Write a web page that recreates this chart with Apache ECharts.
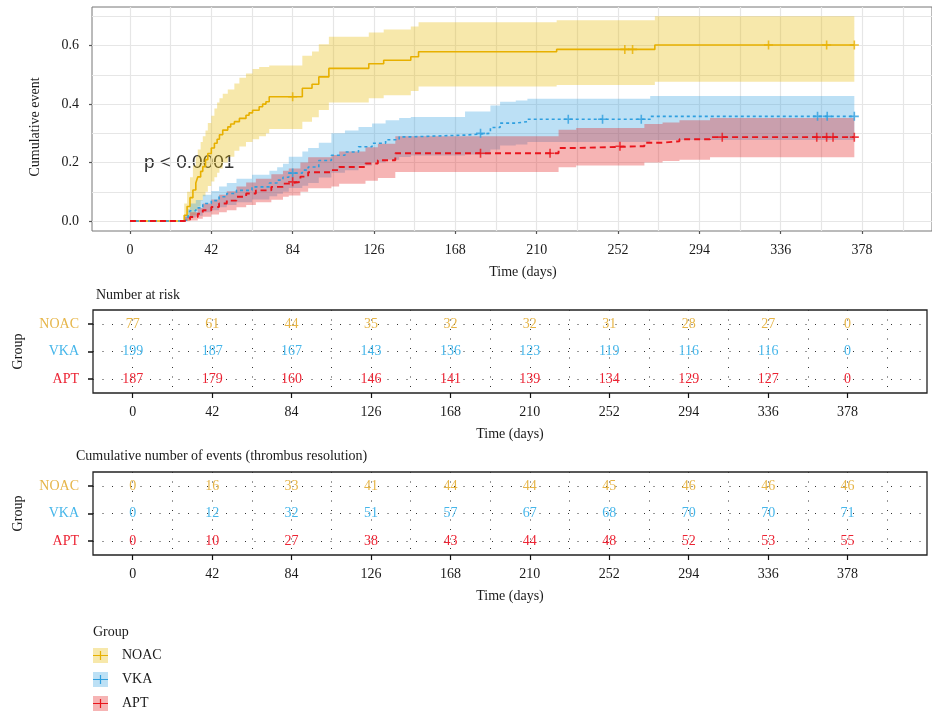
<!DOCTYPE html>
<html>
<head>
<meta charset="utf-8">
<script src="https://cdn.jsdelivr.net/npm/echarts@6/dist/echarts.min.js"></script>
<style>
  html, body { margin: 0; padding: 0; background: #fff; }
  #chart { width: 932px; height: 714px; }
</style>
</head>
<body>
<div id="chart"></div>
<script>
// ---- data ----
const groups = ['NOAC', 'VKA', 'APT'];

// cumulative event, step curves [time, value]
const noacSteps = [[0,0],[28,0.02],[29.5,0.05],[31,0.08],[32.5,0.106],[34,0.13],[35,0.151],[36.5,0.17],[37.6,0.186],[39,0.21],[40.2,0.231],[42,0.25],[43.6,0.266],[45,0.28],[46.2,0.295],[47.9,0.311],[50.5,0.322],[52,0.332],[53.9,0.34],[56.5,0.351],[59.9,0.362],[61.5,0.37],[63.3,0.379],[66.7,0.391],[68.5,0.4],[70.2,0.408],[71.9,0.425],[89,0.454],[94,0.468],[97.5,0.493],[102.7,0.522],[123.3,0.538],[131,0.55],[145,0.562],[149,0.579],[220.3,0.587],[271,0.602],[374,0.602]];
const vkaSteps = [[0,0],[28,0.005],[30,0.02],[31,0.035],[34,0.045],[37.6,0.06],[42,0.07],[46,0.083],[50,0.094],[55,0.105],[63,0.117],[72,0.13],[76,0.14],[79,0.15],[82,0.164],[89,0.174],[92,0.185],[97.5,0.207],[104,0.225],[111,0.236],[118,0.254],[125,0.266],[132,0.278],[139,0.288],[145,0.294],[173,0.3],[186.1,0.32],[191.1,0.335],[199.2,0.34],[205.2,0.348],[268.6,0.358],[374,0.358]];
const aptSteps = [[0,0],[28,0.005],[31,0.014],[35,0.025],[37.6,0.037],[42,0.048],[46,0.06],[50,0.07],[55,0.083],[60,0.094],[65,0.105],[73,0.117],[79,0.128],[82,0.134],[88,0.152],[92,0.167],[104,0.174],[108,0.185],[121.6,0.197],[128,0.208],[137,0.232],[221.3,0.25],[230.4,0.256],[265.6,0.268],[275,0.273],[283.7,0.28],[299.5,0.287],[374,0.287]];

// confidence bands [time, lower, upper]
const noacBand = [[28,0,0.06],[29.5,0,0.1],[31,0.01,0.15],[32.5,0.02,0.19],[34,0.035,0.22],[35,0.05,0.245],[36.5,0.07,0.27],[37.6,0.085,0.29],[39,0.1,0.31],[40.2,0.12,0.335],[42,0.135,0.36],[43.6,0.15,0.385],[45,0.165,0.405],[46.2,0.18,0.42],[47.9,0.2,0.435],[50.5,0.22,0.45],[53.9,0.24,0.47],[56.5,0.255,0.49],[59.9,0.27,0.505],[63.3,0.28,0.52],[66.7,0.29,0.527],[70.2,0.3,0.527],[71.9,0.315,0.532],[89,0.34,0.565],[94,0.355,0.58],[97.5,0.38,0.605],[102.7,0.405,0.63],[123.3,0.42,0.645],[131,0.43,0.655],[145,0.445,0.665],[149,0.46,0.68],[220.3,0.465,0.687],[271,0.476,0.7],[374,0.476,0.7]];
const vkaBand = [[28,0,0.02],[30,0.005,0.04],[31,0.012,0.06],[34,0.018,0.072],[37.6,0.03,0.09],[42,0.037,0.103],[46,0.047,0.118],[50,0.055,0.13],[55,0.064,0.145],[63,0.074,0.158],[72,0.085,0.172],[76,0.093,0.184],[79,0.1,0.196],[82,0.113,0.22],[89,0.121,0.238],[92,0.13,0.25],[97.5,0.149,0.268],[104,0.165,0.3],[111,0.174,0.31],[118,0.19,0.322],[125,0.2,0.334],[132,0.21,0.345],[139,0.219,0.352],[145,0.224,0.356],[173,0.228,0.375],[186.1,0.245,0.395],[191.1,0.258,0.408],[199.2,0.262,0.412],[205.2,0.27,0.418],[268.6,0.277,0.428],[374,0.277,0.428]];
const aptBand = [[28,0,0.015],[31,0.002,0.03],[35,0.008,0.045],[37.6,0.015,0.06],[42,0.022,0.074],[46,0.03,0.09],[50,0.037,0.102],[55,0.047,0.118],[60,0.055,0.132],[65,0.064,0.145],[73,0.073,0.16],[79,0.083,0.172],[82,0.087,0.18],[88,0.1,0.2],[92,0.112,0.218],[104,0.118,0.226],[108,0.128,0.238],[121.6,0.138,0.252],[128,0.147,0.264],[137,0.168,0.29],[221.3,0.184,0.312],[230.4,0.19,0.318],[265.6,0.2,0.332],[275,0.205,0.337],[283.7,0.21,0.345],[299.5,0.218,0.352],[374,0.218,0.352]];

// censoring times
const noacCensor = [84, 255.5, 259.5, 329.7, 359.7, 374];
const vkaCensor = [84, 181, 226.3, 244, 264, 355, 360, 374];
const aptCensor = [84, 181, 216.9, 253, 305.8, 354.6, 359.7, 363, 374];

// tables
const tableTimes = [0, 42, 84, 126, 168, 210, 252, 294, 336, 378];
const riskNoac = [77, 61, 44, 35, 32, 32, 31, 28, 27, 0];
const riskVka = [199, 187, 167, 143, 136, 123, 119, 116, 116, 0];
const riskApt = [187, 179, 160, 146, 141, 139, 134, 129, 127, 0];
const eventsNoac = [0, 16, 33, 41, 44, 44, 45, 46, 46, 46];
const eventsVka = [0, 12, 32, 51, 57, 67, 68, 70, 70, 71];
const eventsApt = [0, 10, 27, 38, 43, 44, 48, 52, 53, 55];

// axes ticks
const xTicks = [0, 42, 84, 126, 168, 210, 252, 294, 336, 378];
const xGridLines = [0, 21, 42, 63, 84, 105, 126, 147, 168, 189, 210, 231, 252, 273, 294, 315, 336, 357, 378, 399];
const yTicks = [0, 0.2, 0.4, 0.6];
const yGridLines = [0, 0.1, 0.2, 0.3, 0.4, 0.5, 0.6, 0.7];
const rowNames = ['APT', 'VKA', 'NOAC'];   // bottom to top
const rowValues = [0, 1, 2];

// ---- styling ----
const serif = '"Liberation Serif", "DejaVu Serif", serif';
const lineColor = { NOAC: '#E7B000', VKA: '#2E9FDF', APT: '#E8141C' };
const bandColor = { NOAC: 'rgba(231,184,0,0.33)', VKA: 'rgba(46,159,223,0.32)', APT: 'rgba(228,26,28,0.33)' };
const textColor = { NOAC: '#E6B548', VKA: '#46B6EA', APT: '#EC2434' };

const chart = echarts.init(document.getElementById('chart'));

function stepValue(steps, t) {
  let v = 0;
  steps.forEach(([st, sv]) => { if (st <= t) v = sv; });
  return v;
}

function bandSeries(name, band) {
  return {
    name, type: 'custom', xAxisIndex: 0, yAxisIndex: 0, z: 1, silent: true,
    itemStyle: { color: bandColor[name] },
    encode: { x: 0, y: [1, 2] },
    data: band,
    renderItem(params, api) {
      if (params.dataIndex !== 0) return null;
      const top = [], bottom = [];
      band.forEach((row, i) => {
        const tNext = i < band.length - 1 ? band[i + 1][0] : row[0];
        top.push(api.coord([row[0], row[2]]), api.coord([tNext, row[2]]));
        bottom.push(api.coord([row[0], row[1]]), api.coord([tNext, row[1]]));
      });
      return {
        type: 'polygon',
        shape: { points: top.concat(bottom.reverse()) },
        style: { fill: bandColor[name] }
      };
    }
  };
}

function curveSeries(name, steps, type, width) {
  return {
    name, type: 'line', step: 'end', xAxisIndex: 0, yAxisIndex: 0, z: 3,
    data: steps, showSymbol: false, symbol: 'none', silent: true,
    lineStyle: { color: lineColor[name], width, type },
    itemStyle: { color: lineColor[name] }
  };
}

function censorSeries(name, steps, times) {
  return {
    name, type: 'scatter', xAxisIndex: 0, yAxisIndex: 0, z: 4, silent: true,
    data: times.map(t => [t, stepValue(steps, t)]),
    symbol: 'path://M5,0L5,10M0,5L10,5', symbolSize: 9,
    itemStyle: { color: 'none', borderColor: lineColor[name], borderWidth: 1.6 }
  };
}

function tableSeries(axisIdx, name, row, values) {
  return {
    type: 'custom', xAxisIndex: axisIdx, yAxisIndex: axisIdx, z: 3, silent: true,
    data: tableTimes.map((t, i) => [t, row, values[i]]),
    renderItem(params, api) {
      const p = api.coord([api.value(0), api.value(1)]);
      return {
        type: 'text', x: p[0], y: p[1],
        style: {
          text: String(api.value(2)), fill: textColor[name],
          font: '14px ' + serif, align: 'center', verticalAlign: 'middle'
        }
      };
    }
  };
}

// axis pairs: one axis only draws the grid lines, the other ticks + labels
function gridXAxis(gridIndex, min, max, lineStyle) {
  return {
    type: 'value', gridIndex, min, max, position: 'bottom',
    axisLine: { show: false, onZero: false },
    axisTick: { show: false, customValues: xGridLines },
    axisLabel: { show: false },
    splitLine: { show: true, lineStyle }
  };
}
function labelXAxis(gridIndex, min, max, tickColor, tickLen, namePad) {
  return {
    type: 'value', gridIndex, min, max, position: 'bottom',
    axisLine: { show: false, onZero: false },
    axisTick: { customValues: xTicks, length: tickLen, lineStyle: { color: tickColor, width: 1.2 } },
    axisLabel: { customValues: xTicks, margin: 12, fontFamily: serif, fontSize: 14, color: '#1a1a1a' },
    splitLine: { show: false },
    name: 'Time (days)', nameLocation: 'middle', nameGap: 34,
    nameTextStyle: { fontFamily: serif, fontSize: 14, color: '#1a1a1a', padding: namePad }
  };
}

const rich = {};
rowNames.forEach(n => { rich[n] = { fontFamily: serif, fontSize: 14, color: textColor[n] }; });

function tableYAxes(gridIndex) {
  return [
    {
      type: 'value', gridIndex, min: -0.5, max: 2.5, splitNumber: 3, position: 'left',
      axisLine: { show: false, onZero: false },
      axisTick: { show: false, customValues: rowValues },
      axisLabel: { show: false },
      splitLine: { show: true, lineStyle: { color: '#333', width: 1, type: [1, 8.5] } }
    },
    {
      type: 'value', gridIndex, min: -0.5, max: 2.5, position: 'left',
      axisLine: { show: false, onZero: false },
      axisTick: { customValues: rowValues, length: 5, lineStyle: { color: '#111', width: 1.5 } },
      axisLabel: {
        customValues: rowValues, margin: 14,
        formatter: v => '{' + rowNames[v] + '|' + rowNames[v] + '}', rich
      },
      splitLine: { show: false },
      name: 'Group', nameLocation: 'middle', nameGap: 68, nameRotate: 90,
      nameTextStyle: { fontFamily: serif, fontSize: 14, color: '#1a1a1a' }
    }
  ];
}

const dotted = { color: '#333', width: 1, type: [1, 8.5] };
const titleStyle = { fontFamily: serif, fontSize: 14, fontWeight: 'normal', color: '#1a1a1a', lineHeight: 16 };
const mainXMin = -19.6;
const mainXMax = 414.1;
// legend key overlay: a line with a "+" on top of the band swatch
const keyIcon = 'path://M0,0M15,15M0,6.9L15,6.9L15,8.1L0,8.1ZM6.9,3L8.1,3L8.1,12L6.9,12Z';

const legendBase = {
  orient: 'vertical', left: 93, top: 648, padding: 0, itemWidth: 15, itemHeight: 15, itemGap: 9,
  selectedMode: false
};

const option = {
  animation: false,
  backgroundColor: '#fff',
  title: [
    { text: 'Number at risk', left: 96, top: 287, padding: 0, textStyle: titleStyle },
    { text: 'Cumulative number of events (thrombus resolution)', left: 76, top: 448, padding: 0, textStyle: titleStyle },
    { text: 'Group', left: 93, top: 624, padding: 0, textStyle: titleStyle }
  ],
  legend: [
    Object.assign({}, legendBase, {
      icon: 'rect', data: groups,
      textStyle: { fontFamily: serif, fontSize: 14, lineHeight: 15, color: '#1a1a1a', padding: [0, 0, 0, 9] }
    }),
    Object.assign({}, legendBase, {
      data: groups.map(n => ({ name: n, icon: keyIcon, itemStyle: { color: lineColor[n] } })),
      textStyle: { fontFamily: serif, fontSize: 14, lineHeight: 15, color: 'rgba(0,0,0,0)', padding: [0, 0, 0, 9] }
    })
  ],
  graphic: [
    { type: 'text', left: 144, top: 153, style: { text: 'p < 0.0001', font: '19px "Liberation Sans", Arial, sans-serif', fill: '#333' } }
  ],
  grid: [
    { left: 92, top: 7, width: 840, height: 224, show: true, borderColor: '#777', borderWidth: 1 },
    { left: 93, top: 310, width: 834, height: 83, show: true, borderColor: '#222', borderWidth: 1.3 },
    { left: 93, top: 472, width: 834, height: 83, show: true, borderColor: '#222', borderWidth: 1.3 }
  ],
  xAxis: [
    gridXAxis(0, mainXMin, mainXMax, { color: '#e6e6e6', width: 1.2 }),
    labelXAxis(0, mainXMin, mainXMax, '#555', 3, [0, 0, 0, 22]),
    gridXAxis(1, -21, 420, dotted),
    labelXAxis(1, -21, 420, '#111', 5, 0),
    gridXAxis(2, -21, 420, dotted),
    labelXAxis(2, -21, 420, '#111', 5, 0)
  ],
  yAxis: [
    {
      type: 'value', gridIndex: 0, min: -0.034, max: 0.732, splitNumber: 8, position: 'left',
      axisLine: { show: false, onZero: false },
      axisTick: { show: false, customValues: yGridLines },
      axisLabel: { show: false },
      splitLine: { show: true, lineStyle: { color: '#e6e6e6', width: 1.2 } }
    },
    {
      type: 'value', gridIndex: 0, min: -0.034, max: 0.732, position: 'left',
      axisLine: { show: false, onZero: false },
      axisTick: { customValues: yTicks, length: 3, lineStyle: { color: '#555', width: 1.2 } },
      axisLabel: { customValues: yTicks, margin: 13, formatter: v => v.toFixed(1), fontFamily: serif, fontSize: 14, color: '#1a1a1a' },
      splitLine: { show: false },
      name: 'Cumulative event', nameLocation: 'middle', nameGap: 50, nameRotate: 90,
      nameTextStyle: { fontFamily: serif, fontSize: 14, color: '#1a1a1a', padding: [0, 16, 0, 0] }
    },
    ...tableYAxes(1),
    ...tableYAxes(2)
  ],
  series: [
    bandSeries('NOAC', noacBand),
    bandSeries('VKA', vkaBand),
    bandSeries('APT', aptBand),
    curveSeries('NOAC', noacSteps, 'solid', 1.6),
    curveSeries('VKA', vkaSteps, [3, 3], 1.6),
    curveSeries('APT', aptSteps, [6, 4], 1.9),
    censorSeries('NOAC', noacSteps, noacCensor),
    censorSeries('VKA', vkaSteps, vkaCensor),
    censorSeries('APT', aptSteps, aptCensor),
    tableSeries(2, 'NOAC', 2, riskNoac),
    tableSeries(2, 'VKA', 1, riskVka),
    tableSeries(2, 'APT', 0, riskApt),
    tableSeries(4, 'NOAC', 2, eventsNoac),
    tableSeries(4, 'VKA', 1, eventsVka),
    tableSeries(4, 'APT', 0, eventsApt)
  ]
};

chart.setOption(option);
</script>
</body>
</html>
